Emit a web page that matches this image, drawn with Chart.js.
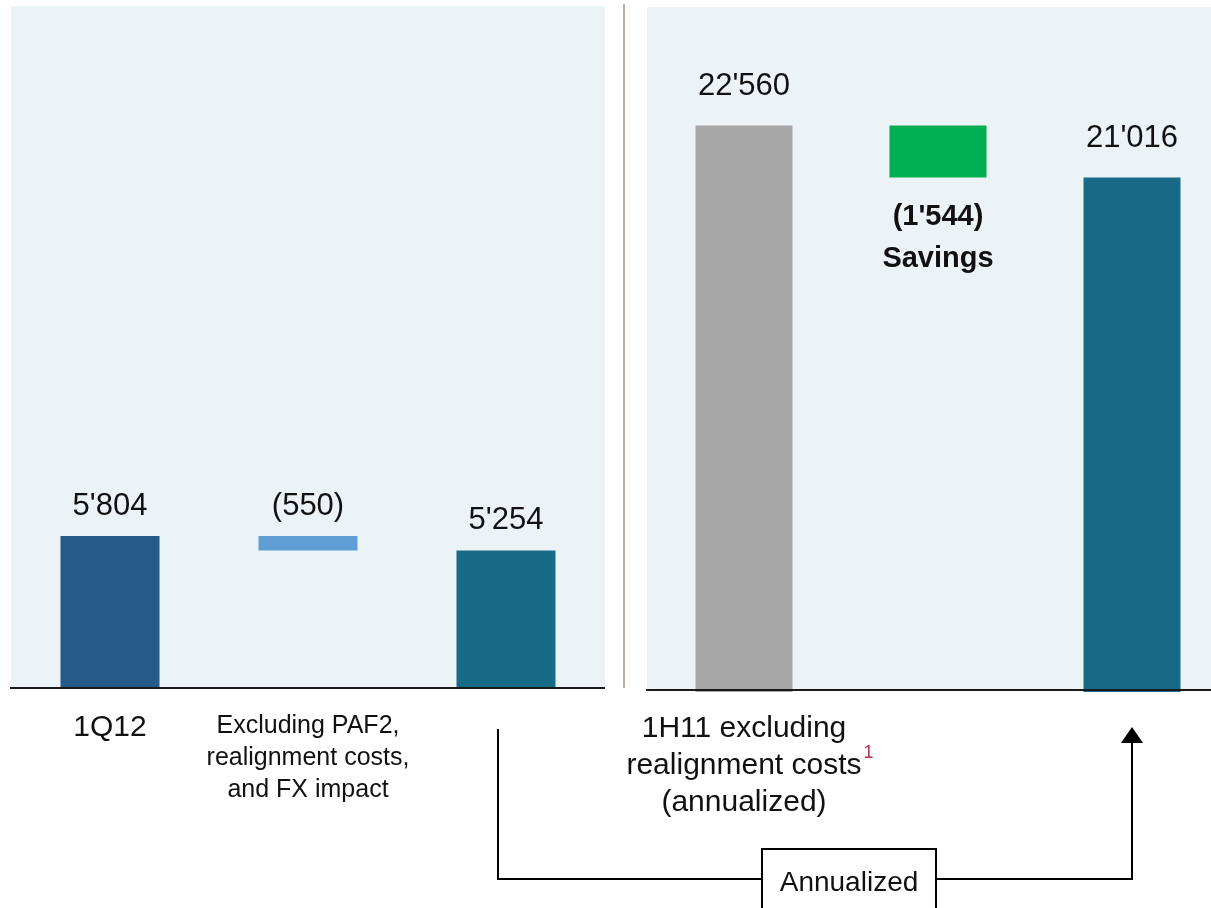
<!DOCTYPE html>
<html>
<head>
<meta charset="utf-8">
<script src="https://cdn.jsdelivr.net/npm/chart.js@4.4.1/dist/chart.umd.min.js"></script>
<style>
  html, body { margin: 0; padding: 0; background: #fff; overflow: hidden; }
  #wrap { position: relative; width: 1211px; height: 908px; overflow: hidden; }
  #wrap canvas { position: absolute; left: 0; top: 0; }
</style>
</head>
<body>
<div id="wrap">
  <canvas id="leftChart" width="1211" height="908"></canvas>
  <canvas id="rightChart" width="1240" height="908"></canvas>
</div>
<script>
// quarterly bridge (left) and annualized savings (right)
const leftCategories = [['1Q12'], ['Excluding PAF2,', 'realignment costs,', 'and FX impact'], ['']];
const leftValues = [5804, -550, 5254];
const leftColors = ['#265a87', '#5f9ed4', '#176b87'];

const rightCategories = [['1H11 excluding', 'realignment costs', '(annualized)'], [''], ['']];
const rightValues = [22560, -1544, 21016];
const rightColors = ['#a6a6a6', '#00b050', '#176b87'];
const rightNote = 'Savings';
const footnoteMark = '1';
const connectorText = 'Annualized';

const FONT = '"Liberation Sans", Arial, sans-serif';
Chart.defaults.font.family = FONT;
Chart.defaults.color = '#111';

function fmt(v) {
  const s = String(Math.abs(v)).replace(/\B(?=(\d{3})+(?!\d))/g, "'");
  return v < 0 ? '(' + s + ')' : s;
}

// first and last bars start at zero, the ones between float
function waterfall(values) {
  let running = 0;
  return values.map((v, i) => {
    if (i === 0 || i === values.length - 1) {
      running = v;
      return [0, v];
    }
    const from = running;
    running += v;
    return [running, from];
  });
}

const panelBg = {
  id: 'panelBg',
  beforeDraw(chart, args, opts) {
    const { ctx, chartArea: a } = chart;
    ctx.save();
    ctx.fillStyle = '#ebf3f6';
    ctx.fillRect(a.left, a.top, a.right - a.left, a.bottom - opts.inset - a.top);
    ctx.restore();
  },
  afterDatasetsDraw(chart, args, opts) {
    const { ctx, chartArea: a } = chart;
    const y = a.bottom - opts.inset;
    ctx.save();
    ctx.strokeStyle = '#1a1a1a';
    ctx.lineWidth = 2;
    ctx.beginPath();
    ctx.moveTo(a.left - 1, y);
    ctx.lineTo(a.right, y);
    ctx.stroke();
    if (opts.separator) {
      ctx.strokeStyle = '#bab1ab';
      ctx.beginPath();
      ctx.moveTo(a.right + 19, 4);
      ctx.lineTo(a.right + 19, a.bottom);
      ctx.stroke();
    }
    ctx.restore();
  }
};

const valueLabels = {
  id: 'valueLabels',
  afterDatasetsDraw(chart, args, opts) {
    const { ctx } = chart;
    const meta = chart.getDatasetMeta(0);
    ctx.save();
    ctx.textAlign = 'center';
    ctx.textBaseline = 'alphabetic';
    ctx.fillStyle = '#111';
    meta.data.forEach((bar, i) => {
      const top = Math.min(bar.y, bar.base);
      const bottom = Math.max(bar.y, bar.base);
      if (opts.below && opts.below.includes(i)) {
        ctx.font = 'bold 29px ' + FONT;
        ctx.fillText(fmt(opts.values[i]), bar.x, bottom + 48);
        ctx.fillText(opts.note, bar.x, bottom + 90);
      } else {
        ctx.font = '31px ' + FONT;
        ctx.fillText(fmt(opts.values[i]), bar.x, top - opts.offset);
      }
    });
    ctx.restore();
  }
};

const leftChart = new Chart(document.getElementById('leftChart'), {
  type: 'bar',
  data: {
    labels: leftCategories,
    datasets: [{
      data: waterfall(leftValues),
      backgroundColor: leftColors,
      barPercentage: 1,
      categoryPercentage: 0.5,
    }],
  },
  options: {
    responsive: false,
    animation: false,
    events: [],
    layout: { padding: { left: 11, right: 606, top: 6, bottom: 0 } },
    plugins: {
      legend: { display: false },
      tooltip: { enabled: false },
      panelBg: { inset: 0, separator: true },
      valueLabels: { values: leftValues, offset: 21 },
    },
    scales: {
      x: {
        grid: { display: false, drawTicks: false },
        border: { display: false },
        ticks: {
          padding: 22,
          maxRotation: 0,
          autoSkip: false,
          color: '#111',
          font: (c) => c.index === 1
            ? { size: 25, lineHeight: '32px' }
            : { size: 30, lineHeight: '36px' },
        },
        afterFit: (s) => { s.height = 220; },
      },
      y: { display: false, min: 0, max: 26040 },
    },
  },
  plugins: [panelBg, valueLabels],
});

const connector = {
  id: 'connector',
  afterDraw(chart) {
    const { ctx } = chart;
    const xs = chart.scales.x;
    // footnote mark after the second label line
    ctx.save();
    ctx.font = '30px ' + FONT;
    const w = ctx.measureText(rightCategories[0][1]).width;
    const lineY = xs.top + 18.5 + 37 * 1.5;
    ctx.font = '18px ' + FONT;
    ctx.fillStyle = '#b83250';
    ctx.textAlign = 'left';
    ctx.fillText(footnoteMark, xs.getPixelForTick(0) + w / 2 + 2, lineY - 8);

    // "Annualized" bracket from the left end bar to the right end bar
    const xa = leftChart.scales.x.getPixelForValue(2) - 8;
    const xb = xs.getPixelForValue(2);
    const yLine = 879;
    ctx.strokeStyle = '#000';
    ctx.lineWidth = 2;
    ctx.beginPath();
    ctx.moveTo(xa, 729);
    ctx.lineTo(xa, yLine);
    ctx.lineTo(xb, yLine);
    ctx.lineTo(xb, 740);
    ctx.stroke();
    ctx.fillStyle = '#000';
    ctx.beginPath();
    ctx.moveTo(xb, 727);
    ctx.lineTo(xb - 11, 743);
    ctx.lineTo(xb + 11, 743);
    ctx.closePath();
    ctx.fill();

    ctx.fillStyle = '#fff';
    ctx.fillRect(762, 849, 174, 80);
    ctx.strokeRect(762, 849, 174, 80);
    ctx.fillStyle = '#111';
    ctx.font = '28px ' + FONT;
    ctx.textAlign = 'center';
    ctx.textBaseline = 'alphabetic';
    ctx.fillText(connectorText, 849, 891);
    ctx.restore();
  }
};

const rightChart = new Chart(document.getElementById('rightChart'), {
  type: 'bar',
  data: {
    labels: rightCategories,
    datasets: [{
      data: waterfall(rightValues),
      backgroundColor: rightColors,
      barPercentage: 1,
      categoryPercentage: 0.5,
    }],
  },
  options: {
    responsive: false,
    animation: false,
    events: [],
    layout: { padding: { left: 647, right: 11, top: 7, bottom: 0 } },
    plugins: {
      legend: { display: false },
      tooltip: { enabled: false },
      panelBg: { inset: 2, separator: false },
      valueLabels: { values: rightValues, offset: 30, below: [1], note: rightNote },
    },
    scales: {
      x: {
        grid: { display: false, drawTicks: false },
        border: { display: false },
        ticks: {
          padding: 18.5,
          maxRotation: 0,
          autoSkip: false,
          color: '#111',
          font: { size: 30, lineHeight: '37px' },
        },
        afterFit: (s) => { s.height = 216; },
      },
      y: { display: false, min: 5720, max: 26080 },
    },
  },
  plugins: [panelBg, valueLabels, connector],
});
</script>
</body>
</html>
